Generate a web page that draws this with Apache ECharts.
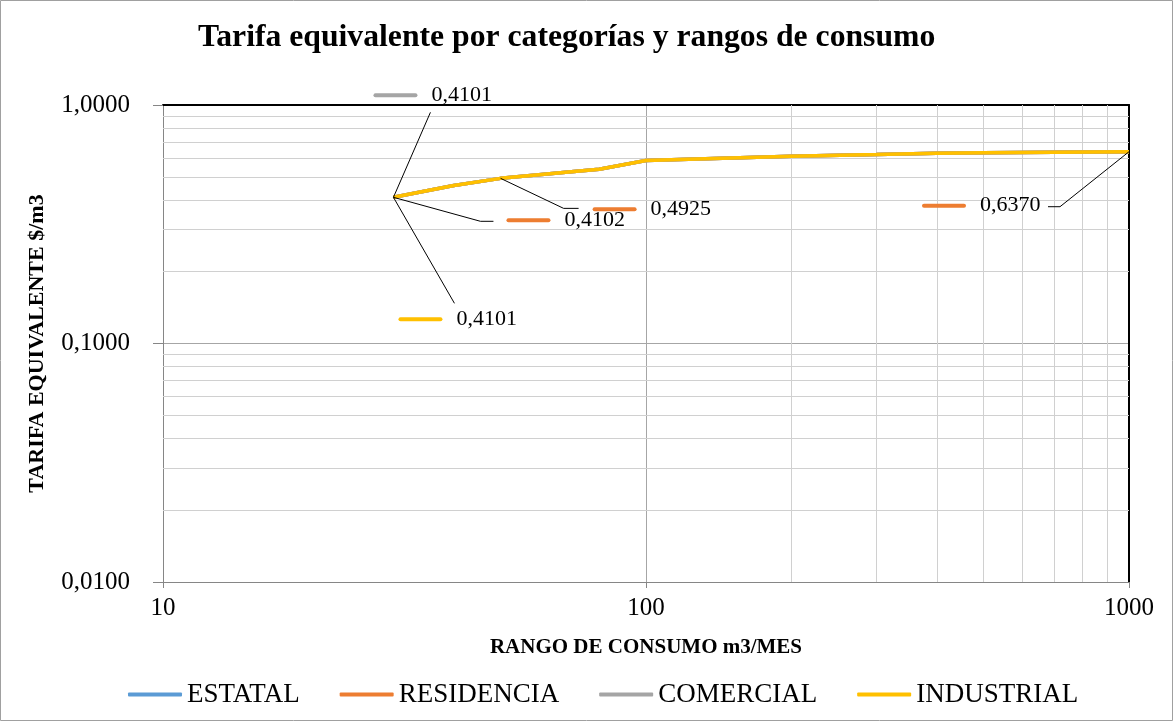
<!DOCTYPE html>
<html><head><meta charset="utf-8">
<script src="https://cdn.jsdelivr.net/npm/echarts@6/dist/echarts.min.js"></script>
<style>html,body{margin:0;padding:0;background:#fff}#c{width:1173px;height:721px}</style>
</head><body><div id="c"></div>
<script>
// ---- data ----
const xValues = [30, 40, 50, 60, 70, 80, 100, 150, 200, 300, 400, 500, 700, 1000];
const estatal    = [0.4101, 0.4600, 0.4925, 0.5100, 0.5250, 0.5380, 0.5850, 0.6000, 0.6100, 0.6200, 0.6280, 0.6310, 0.6340, 0.6370];
const residencia = [0.4102, 0.4600, 0.4925, 0.5100, 0.5250, 0.5380, 0.5850, 0.6000, 0.6100, 0.6200, 0.6280, 0.6310, 0.6340, 0.6370];
const comercial  = [0.4101, 0.4600, 0.4925, 0.5100, 0.5250, 0.5380, 0.5850, 0.6000, 0.6100, 0.6200, 0.6280, 0.6310, 0.6340, 0.6370];
const industrial = [0.4101, 0.4600, 0.4925, 0.5100, 0.5250, 0.5380, 0.5850, 0.6000, 0.6100, 0.6200, 0.6280, 0.6310, 0.6340, 0.6370];
const seriesNames = ['ESTATAL', 'RESIDENCIA', 'COMERCIAL', 'INDUSTRIAL'];
const yMinorTicks = [0.02, 0.03, 0.04, 0.05, 0.06, 0.07, 0.08, 0.09, 0.2, 0.3, 0.4, 0.5, 0.6, 0.7, 0.8, 0.9];
const xMinorTicks = [200, 300, 400, 500, 600, 700, 800, 900];
// which points carry a data label: [seriesIndex, dataIndex]
const labelled = [[2, 0], [3, 0], [1, 0], [1, 2], [1, 13]];

// ---- styling / layout ----
const colors = ['#5B9BD5', '#ED7D31', '#A5A5A5', '#FFC000'];
const serif = '"Liberation Serif", "Times New Roman", serif';
const labelOffsets = { '2_0': [-20, -102], '3_0': [5, 122], '1_0': [113, 23], '1_2': [92, 31], '1_13': [-207, 54] };
const leaderPaths = {
  '2_0': [[37, -85]],
  '3_0': [[61, 106]],
  '1_0': [[87, 24], [100, 24]],
  '1_2': [[63, 30], [78, 30]],
  '1_13': [[-69, 55], [-81, 55]]
};
const fmt = v => v.toFixed(4).replace('.', ',');

const dataSets = [estatal, residencia, comercial, industrial];
const chart = echarts.init(document.getElementById('c'), null, { renderer: 'canvas' });

const series = dataSets.map((vals, si) => {
  const data = xValues.map((x, i) => {
    const key = si + '_' + i;
    const item = { value: [x, vals[i]] };
    if (labelOffsets[key]) item.label = { show: true };
    return item;
  });
  const s = {
    name: seriesNames[si],
    type: 'line',
    xAxisIndex: 0, yAxisIndex: 0,
    data: data,
    showSymbol: true,
    symbol: 'circle',
    symbolSize: 0.01,
    itemStyle: { color: colors[si] },
    lineStyle: { color: colors[si], width: 3.5 },
    z: 10 + si,
    label: {
      show: false,
      formatter: p => '{k|}{v|' + fmt(p.value[1]) + '}',
      rich: {
        k: { width: 44, height: 4, backgroundColor: colors[si], borderRadius: 2 },
        v: { fontFamily: serif, fontSize: 22, color: '#000', padding: [0, 0, 0, 14] }
      }
    },
    labelLayout: p => {
      const off = labelOffsets[p.seriesIndex + '_' + p.dataIndex];
      if (!off) return {};
      const cx = p.rect.x + p.rect.width / 2, cy = p.rect.y + p.rect.height / 2;
      return { x: cx + off[0], y: cy + off[1], align: 'left', verticalAlign: 'middle' };
    },
    emphasis: { disabled: true }
  };
  if (si === 0) {
    s.markLine = {
      silent: true,
      symbol: 'none',
      label: { show: false },
      lineStyle: { color: '#D0D0D0', width: 1, type: 'solid' },
      emphasis: { disabled: true },
      z: 1,
      data: yMinorTicks.map(v => ({ yAxis: v })).concat(xMinorTicks.map(v => ({ xAxis: v })))
    };
  }
  return s;
});

chart.setOption({
  animation: false,
  backgroundColor: '#fff',
  color: colors,
  title: {
    text: 'Tarifa equivalente por categorías y rangos de consumo',
    left: 193, top: 17,
    textStyle: { fontFamily: serif, fontSize: 31.7, fontWeight: 'bold', color: '#000' }
  },
  legend: {
    left: 123, top: 676,
    icon: 'roundRect', itemWidth: 54, itemHeight: 4, itemGap: 40,
    itemStyle: { opacity: 1 },
    textStyle: { fontFamily: serif, fontSize: 27, color: '#000' },
    data: seriesNames
  },
  grid: { left: 163, right: 44, top: 105, bottom: 139, containLabel: false },
  xAxis: [{
    type: 'log', logBase: 10, min: 10, max: 1000,
    name: 'RANGO DE CONSUMO m3/MES', nameLocation: 'middle', nameGap: 55,
    nameTextStyle: { fontFamily: serif, fontSize: 21, fontWeight: 'bold', color: '#000' },
    axisLine: { show: true, lineStyle: { color: '#868686', width: 1 } },
    axisTick: { show: true, length: 6, lineStyle: { color: '#868686' } },
    axisLabel: { fontFamily: serif, fontSize: 25, color: '#000', margin: 14, formatter: v => String(v) },
    splitLine: { show: true, lineStyle: { color: '#A6A6A6', width: 1 } },
    minorTick: { show: false }, minorSplitLine: { show: false }
  }, {
    type: 'log', logBase: 10, min: 10, max: 1000, position: 'top',
    axisLine: { show: true, lineStyle: { color: '#000', width: 2 } },
    axisTick: { show: false }, axisLabel: { show: false }, splitLine: { show: false }
  }],
  yAxis: [{
    type: 'log', logBase: 10, min: 0.01, max: 1,
    name: 'TARIFA EQUIVALENTE $/m3', nameLocation: 'middle', nameGap: 115,
    nameTextStyle: { fontFamily: serif, fontSize: 22, fontWeight: 'bold', color: '#000' },
    axisLine: { show: true, lineStyle: { color: '#868686', width: 1 } },
    axisTick: { show: true, length: 10, lineStyle: { color: '#868686' } },
    axisLabel: { fontFamily: serif, fontSize: 25, color: '#000', margin: 33, formatter: v => fmt(v) },
    splitLine: { show: true, lineStyle: { color: '#A6A6A6', width: 1 } },
    minorTick: { show: false }, minorSplitLine: { show: false }
  }, {
    type: 'log', logBase: 10, min: 0.01, max: 1, position: 'right',
    axisLine: { show: true, lineStyle: { color: '#000', width: 2 } },
    axisTick: { show: false }, axisLabel: { show: false }, splitLine: { show: false }
  }],
  series: series
});

// leader lines from each labelled point, positioned through the chart's own scales
const graphics = [{
  type: 'rect', silent: true, z: 100,
  shape: { x: 0.5, y: 0.5, width: 1172, height: 720 },
  style: { fill: 'none', stroke: '#A0A0A0', lineWidth: 1 }
}];
labelled.forEach(([si, di]) => {
  const p = chart.convertToPixel({ xAxisIndex: 0, yAxisIndex: 0 }, [xValues[di], dataSets[si][di]]);
  const pts = [p].concat(leaderPaths[si + '_' + di].map(o => [p[0] + o[0], p[1] + o[1]]));
  graphics.push({
    type: 'polyline', silent: true, z: 50,
    shape: { points: pts },
    style: { stroke: '#000', lineWidth: 1, fill: 'none' }
  });
});
chart.setOption({ graphic: graphics });
</script>
</body></html>
